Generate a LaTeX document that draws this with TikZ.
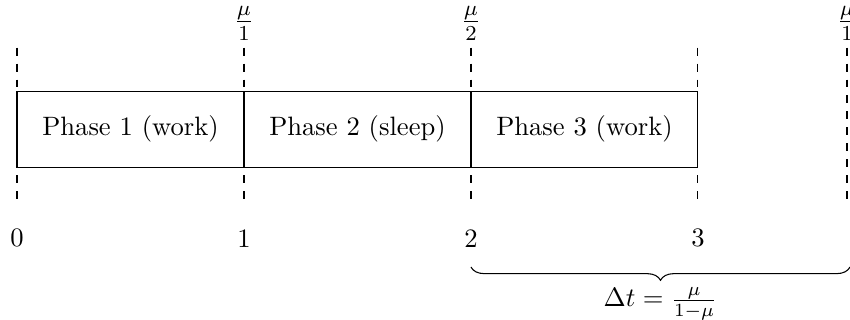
\documentclass[tikz,border=0pt]{standalone}
\usepackage{amsmath}
\usetikzlibrary{positioning,decorations.pathreplacing}

\begin{document}
\begin{tikzpicture}[
    phase/.style={draw, minimum width=3cm, minimum height=1cm, inner sep=0pt, outer sep=0pt},
    tick/.style={dashed},
    mark label/.style={font=\large}
  ]
  \useasboundingbox (-0.225,0) rectangle (11.01,4.229);
  % dashed time marks
  \foreach \i/\x in {0/0,1/3,2/6,3/9,4/10.97} {
      \coordinate (top\i) at (\x,3.6);
      \coordinate (bot\i) at (\x,1.53);
      \draw[tick] (top\i) -- (bot\i);
    }
  % phases
  \node[phase] (p1) at (1.5,2.52) {Phase 1 (work)};
  \node[phase, right=0pt of p1] (p2) {Phase 2 (sleep)};
  \node[phase, right=0pt of p2] (p3) {Phase 3 (work)};
  % times
  \foreach \i in {0,1,2,3} {
      \node (n\i) at (3*\i,1.08) {\i};
    }
  \node[mark label] (m1) at (3,3.92) {$\frac{\mu}{1}$};
  \node[mark label] (m2) at (6,3.92) {$\frac{\mu}{2}$};
  \node[mark label] (m4) at (10.97,3.92) {$\frac{\mu}{1}$};
  % interval
  \coordinate (b2) at (6,0.7);
  \coordinate (b4) at (11.01,0.7);
  \draw[decorate, decoration={brace, mirror, amplitude=5pt}] (b2) -- (b4)
    node[midway, below=4pt] (dt) {$\Delta t = \frac{\mu}{1-\mu}$};
\end{tikzpicture}
\end{document}
